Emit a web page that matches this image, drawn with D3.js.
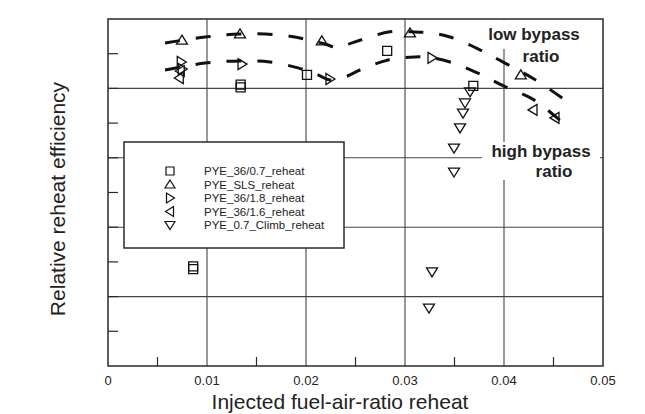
<!DOCTYPE html>
<html><head><meta charset="utf-8">
<script src="https://cdn.jsdelivr.net/npm/d3@7"></script>
<style>body{margin:0;background:#fff}svg{display:block}text{font-family:"Liberation Sans",Arial,sans-serif}</style>
</head><body><svg id="c" width="645" height="414"></svg>
<script>
// Data
const xTickLabels = ["0","0.01","0.02","0.03","0.04","0.05"];
const xTickValues = [0,0.01,0.02,0.03,0.04,0.05];
const xGrid = [0.01,0.02,0.03,0.04];
const yGrid = [0.2,0.4,0.6,0.8];
const xMinor = [0.005,0.015,0.025,0.035,0.045];
const yMinor = [0.1,0.2,0.3,0.4,0.5,0.6,0.7,0.8,0.9];

const seriesNames = ["PYE_36/0.7_reheat","PYE_SLS_reheat","PYE_36/1.8_reheat","PYE_36/1.6_reheat","PYE_0.7_Climb_reheat"];
const seriesShapes = ["square","up","right","left","down"];

const squareX = [0.0086,0.0086,0.0134,0.0134,0.0201,0.0282,0.0369];
const squareY = [0.287,0.279,0.811,0.803,0.839,0.908,0.807];
const upX = [0.00747,0.01333,0.0216,0.0305,0.0417];
const upY = [0.939,0.957,0.937,0.960,0.839];
const rightX = [0.0074,0.0075,0.01354,0.02242,0.03273];
const rightY = [0.876,0.856,0.870,0.827,0.888];
const leftX = [0.0073,0.0072,0.04293,0.04515];
const leftY = [0.850,0.830,0.738,0.715];
const downX = [0.03657,0.03606,0.03586,0.03556,0.03495,0.03495,0.03273,0.03242];
const downY = [0.790,0.758,0.729,0.686,0.628,0.559,0.271,0.167];

// dashed trend curves
const lowBypassX = [0.00576,0.0098,0.01333,0.01737,0.0199,0.02192,0.02323,0.02465,0.02646,0.02848,0.0307,0.03253,0.03455,0.03737,0.0401,0.04303,0.04616];
const lowBypassY = [0.931,0.948,0.957,0.954,0.942,0.928,0.917,0.931,0.948,0.963,0.963,0.960,0.948,0.914,0.873,0.827,0.767];
const highBypassX = [0.00576,0.0098,0.01333,0.01636,0.01919,0.02121,0.02242,0.02394,0.02545,0.02828,0.0305,0.03222,0.03455,0.03737,0.0402,0.04303,0.04616];
const highBypassY = [0.853,0.873,0.879,0.876,0.859,0.839,0.824,0.833,0.853,0.882,0.890,0.890,0.876,0.844,0.804,0.767,0.695];

const svg = d3.select("#c");
const L=108,R=603,T=19,B=366;
const x = d3.scaleLinear().domain([0,0.05]).range([L,R]);
const y = d3.scaleLinear().domain([0,1]).range([B,T]);
const ink="#2a2a2a";

// grid
const g = svg.append("g");
g.selectAll(".gx").data(xGrid).join("line").attr("x1",d=>x(d)).attr("x2",d=>x(d)).attr("y1",T).attr("y2",B).attr("stroke","#444").attr("stroke-width",1.1);
g.selectAll(".gy").data(yGrid).join("line").attr("y1",d=>y(d)).attr("y2",d=>y(d)).attr("x1",L).attr("x2",R).attr("stroke","#444").attr("stroke-width",1.1);
// minor ticks
g.selectAll(".tx").data(xMinor).join("line").attr("x1",d=>x(d)).attr("x2",d=>x(d)).attr("y1",B).attr("y2",B-9).attr("stroke",ink).attr("stroke-width",1.2);
g.selectAll(".ty").data(yMinor).join("line").attr("y1",d=>y(d)).attr("y2",d=>y(d)).attr("x1",L).attr("x2",L+10).attr("stroke",ink).attr("stroke-width",1.2);

// white boxes behind annotations
svg.append("rect").attr("x",485).attr("y",T+1).attr("width",105).attr("height",29).attr("fill","#fff");
svg.append("rect").attr("x",482).attr("y",142).attr("width",118).attr("height",38).attr("fill","#fff");

// frame
svg.append("rect").attr("x",L).attr("y",T).attr("width",R-L).attr("height",B-T).attr("fill","none").attr("stroke",ink).attr("stroke-width",1.5);

// x tick labels
svg.selectAll(".xl").data(xTickValues).join("text").attr("x",d=>x(d)).attr("y",385).attr("text-anchor","middle").attr("font-size",13).attr("fill","#222").text((d,i)=>xTickLabels[i]);

// axis titles
svg.append("text").attr("x",340).attr("y",409).attr("text-anchor","middle").attr("font-size",21).attr("fill","#222").text("Injected fuel-air-ratio reheat");
svg.append("text").attr("transform","translate(65,199) rotate(-90)").attr("text-anchor","middle").attr("font-size",21).attr("fill","#222").text("Relative reheat efficiency");

// curves
const line = d3.line().x(d=>x(d[0])).y(d=>y(d[1])).curve(d3.curveCatmullRom);
[[lowBypassX,lowBypassY],[highBypassX,highBypassY]].forEach(([xs,ys])=>{
  svg.append("path").attr("d",line(xs.map((v,i)=>[v,ys[i]]))).attr("fill","none").attr("stroke","#111").attr("stroke-width",3).attr("stroke-dasharray","15 16");
});

// marker paths
function shapePath(shape,s){
  const h=s/2;
  if(shape==="square") return `M${-h+0.5},${-h+0.5}H${h-0.5}V${h-0.5}H${-h+0.5}Z`;
  if(shape==="up") return `M0,${-h}L${h+0.5},${h-1}L${-h-0.5},${h-1}Z`;
  if(shape==="down") return `M0,${h}L${h+0.5},${-h+1}L${-h-0.5},${-h+1}Z`;
  if(shape==="right") return `M${h},0L${-h+1},${-h-0.5}L${-h+1},${h+0.5}Z`;
  if(shape==="left") return `M${-h},0L${h-1},${-h-0.5}L${h-1},${h+0.5}Z`;
}
const sets = [[squareX,squareY],[upX,upY],[rightX,rightY],[leftX,leftY],[downX,downY]];
sets.forEach(([xs,ys],k)=>{
  svg.append("g").selectAll("path").data(xs.map((v,i)=>[v,ys[i]])).join("path")
    .attr("transform",d=>`translate(${x(d[0])},${y(d[1])})`)
    .attr("d",shapePath(seriesShapes[k],10)).attr("fill","none").attr("stroke","#111").attr("stroke-width",1.3);
});

// legend
const lg = svg.append("g");
lg.append("rect").attr("x",124).attr("y",142).attr("width",220).attr("height",106).attr("fill","#fff").attr("stroke",ink).attr("stroke-width",1.5);
const rowY = d3.scaleLinear().domain([0,4]).range([171,225]);
seriesNames.forEach((n,i)=>{
  lg.append("path").attr("transform",`translate(170,${rowY(i)})`).attr("d",shapePath(seriesShapes[i],9)).attr("fill","none").attr("stroke","#111").attr("stroke-width",1.2);
  lg.append("text").attr("x",204).attr("y",rowY(i)+4).attr("font-size",11.5).attr("fill","#222").text(n);
});

// annotations
svg.append("text").attr("x",534).attr("y",40).attr("text-anchor","middle").attr("font-size",17).attr("font-weight","bold").attr("fill","#222").text("low bypass");
svg.append("text").attr("x",541).attr("y",62).attr("text-anchor","middle").attr("font-size",17).attr("font-weight","bold").attr("fill","#222").text("ratio");
svg.append("text").attr("x",541).attr("y",157).attr("text-anchor","middle").attr("font-size",17).attr("font-weight","bold").attr("fill","#222").text("high bypass");
svg.append("text").attr("x",554).attr("y",177).attr("text-anchor","middle").attr("font-size",17).attr("font-weight","bold").attr("fill","#222").text("ratio");
</script></body></html>
